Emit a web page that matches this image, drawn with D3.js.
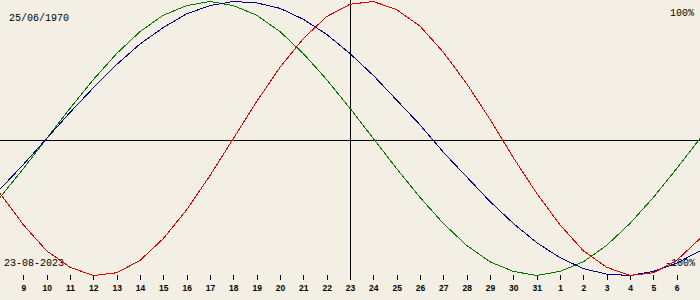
<!DOCTYPE html>
<html>
<head>
<meta charset="utf-8">
<script src="https://cdn.jsdelivr.net/npm/d3@7"></script>
<style>
  body { margin: 0; background: #f3efe4; }
  svg { display: block; }
</style>
</head>
<body>
<script>
// days shown, from 15 days before to 15 days after 23-08-2023
var offsets = d3.range(-15, 16);
var dayLabels = [8, 9, 10, 11, 12, 13, 14, 15, 16, 17, 18, 19, 20, 21, 22, 23,
  24, 25, 26, 27, 28, 29, 30, 31, 1, 2, 3, 4, 5, 6, 7];

// values (-1 .. 1)
var physical = [-0.40, -0.63, -0.82, -0.94, -1.00, -0.98, -0.89, -0.73, -0.52, -0.27,
  0.00, 0.27, 0.52, 0.73, 0.89, 0.98, 1.00, 0.94, 0.82, 0.63, 0.40, 0.14,
  -0.14, -0.40, -0.63, -0.82, -0.94, -1.00, -0.98, -0.89, -0.73];
var emotional = [-0.43, -0.22, 0.00, 0.22, 0.43, 0.62, 0.78, 0.90, 0.97, 1.00, 0.97,
  0.90, 0.78, 0.62, 0.43, 0.22, 0.00, -0.22, -0.43, -0.62, -0.78, -0.90,
  -0.97, -1.00, -0.97, -0.90, -0.78, -0.62, -0.43, -0.22, 0.00];
var intellectual = [-0.37, -0.19, 0.00, 0.19, 0.37, 0.54, 0.69, 0.81, 0.91, 0.97, 1.00,
  0.99, 0.95, 0.87, 0.76, 0.62, 0.46, 0.28, 0.10, -0.10, -0.28, -0.46,
  -0.62, -0.76, -0.87, -0.95, -0.99, -1.00, -0.97, -0.91, -0.82];

var birthText = "25/06/1970";
var dateText = "23-08-2023";

var w = 700, h = 300;

var svg = d3.select("body").append("svg")
  .attr("width", w)
  .attr("height", h);

svg.append("rect")
  .attr("width", w).attr("height", h)
  .attr("fill", "#f3efe4");

var xScale = d3.scaleLinear().domain([-15, 15]).range([0, w]);
var yScale = d3.scaleLinear().domain([-1, 1]).range([275.5, 1.5]);

// labels (drawn under the curves)
var mono = "'Liberation Mono', 'DejaVu Sans Mono', monospace";
svg.append("text").attr("x", 9).attr("y", 20.5).text(birthText)
  .attr("font-family", mono).attr("font-size", "10px").attr("fill", "#000");
svg.append("text").attr("x", 4).attr("y", 266).text(dateText)
  .attr("font-family", mono).attr("font-size", "10px").attr("fill", "#000");
svg.append("text").attr("x", 694).attr("y", 16).text("100%")
  .attr("text-anchor", "end")
  .attr("font-family", mono).attr("font-size", "10px").attr("fill", "#000");
svg.append("text").attr("x", 695).attr("y", 266).text("-100%")
  .attr("text-anchor", "end")
  .attr("font-family", mono).attr("font-size", "10px").attr("fill", "#000");

// day axis
var xAxis = d3.axisBottom(xScale)
  .tickValues(d3.range(-14, 15))
  .tickSize(5)
  .tickPadding(5)
  .tickFormat(function(d) { return dayLabels[d + 15]; });

var gx = svg.append("g")
  .attr("transform", "translate(0,275)")
  .call(xAxis);
gx.select(".domain").remove();
gx.selectAll("line").attr("stroke", "#000").attr("shape-rendering", "crispEdges");
gx.selectAll("text")
  .attr("font-family", "'Liberation Sans', Arial, sans-serif")
  .attr("font-size", "8.5px")
  .attr("font-weight", "bold")
  .attr("fill", "#000");

// zero line and today line
svg.append("line")
  .attr("x1", 0).attr("x2", w)
  .attr("y1", 140.5).attr("y2", 140.5)
  .attr("stroke", "#000");
svg.append("line")
  .attr("x1", xScale(0) + 0.5).attr("x2", xScale(0) + 0.5)
  .attr("y1", 0).attr("y2", 280)
  .attr("stroke", "#000");

var line = d3.line()
  .x(function(d, i) { return xScale(offsets[i]); })
  .y(function(d) { return yScale(d); });

var series = [
  { values: emotional, color: "#007800" },
  { values: intellectual, color: "#00008c" },
  { values: physical, color: "#e00000" }
];

svg.selectAll(".curve")
  .data(series)
  .enter()
  .append("path")
  .attr("class", "curve")
  .attr("d", function(s) { return line(s.values); })
  .attr("fill", "none")
  .attr("stroke", function(s) { return s.color; })
  .attr("stroke-width", 1)
  .attr("shape-rendering", "crispEdges");
</script>
</body>
</html>
